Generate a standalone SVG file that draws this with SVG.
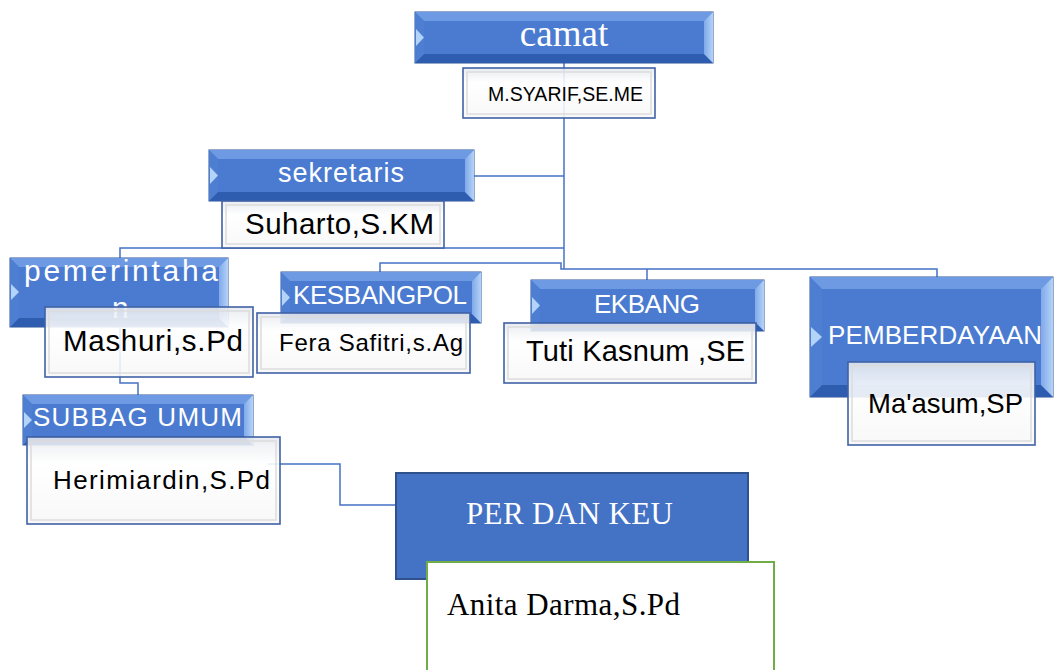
<svg xmlns="http://www.w3.org/2000/svg" width="1054" height="670" viewBox="0 0 1054 670">
<defs>
<linearGradient id="gBlue" x1="0" y1="0" x2="0" y2="1">
<stop offset="0" stop-color="#5a88d8"/>
<stop offset="1" stop-color="#3a6cc6"/>
</linearGradient>
<linearGradient id="gRight" x1="0" y1="0" x2="1" y2="0">
<stop offset="0" stop-color="#7fa9ea"/>
<stop offset="1" stop-color="#b5d3f7"/>
</linearGradient>
<linearGradient id="gWhite" x1="0" y1="0" x2="0" y2="1">
<stop offset="0" stop-color="#e6e9ef"/>
<stop offset="0.3" stop-color="#ffffff"/>
<stop offset="1" stop-color="#f7f7f7"/>
</linearGradient>
</defs>
<style>
.bx{fill:url(#gBlue);stroke:#2f5597;stroke-width:1}
.bt{fill:#6d9ae2}
.bb{fill:#2e5cae}
.bl{fill:#4d7ed2}
.br{fill:url(#gRight)}
.ba{fill:#b3d4f8}
.bi{fill:#4a7bd0}
.wb{fill:url(#gWhite);fill-opacity:0.88;stroke:#3f62a6;stroke-width:1.6}
.wi{fill:none;stroke:#dcdcdc;stroke-width:1.5}
.conn{fill:none;stroke:#4472c4;stroke-width:1.5}
.sw{font-family:"Liberation Sans",Arial,sans-serif;fill:#ffffff}
.sk{font-family:"Liberation Sans",Arial,sans-serif;fill:#000000}
.rw{font-family:"Liberation Serif","Times New Roman",serif;fill:#ffffff}
.rk{font-family:"Liberation Serif","Times New Roman",serif;fill:#000000}
</style>
<g id="connectors">
<path class="conn" d="M564 62 V269"/>
<path class="conn" d="M474 176 H564"/>
<path class="conn" d="M564 248 H120 V383 H138 V395"/>
<path class="conn" d="M380 273 V263 H561 V269 H937 V278"/>
<path class="conn" d="M647 269 V280"/>
<path class="conn" d="M268 464 H340 V505 H396"/>
</g>
<g id="camat">
<rect class="bx" x="415" y="12" width="298" height="51"/>
<polygon class="bt" points="415,12 713,12 704,21 424,21"/>
<polygon class="bb" points="415,63 713,63 704,54 424,54"/>
<polygon class="bl" points="415,12 424,21 424,54 415,63"/>
<polygon class="br" points="713,12 704,21 704,54 713,63"/>
<polygon class="ba" points="416,29 424,37.5 416,46"/>
<rect class="bi" x="424" y="21" width="280" height="33"/>
<text class="rw" x="564" y="46" font-size="37" text-anchor="middle">camat</text>
</g>
<g id="syarif">
<rect class="wb" x="463" y="68" width="192" height="50"/>
<rect class="wi" x="467" y="72" width="184" height="42"/>
<text class="sk" x="488" y="101" font-size="19.5" textLength="155" lengthAdjust="spacing">M.SYARIF,SE.ME</text>
</g>
<g id="sekretaris">
<rect class="bx" x="209" y="150" width="265" height="51"/>
<polygon class="bt" points="209,150 474,150 465,159 218,159"/>
<polygon class="bb" points="209,201 474,201 465,192 218,192"/>
<polygon class="bl" points="209,150 218,159 218,192 209,201"/>
<polygon class="br" points="474,150 465,159 465,192 474,201"/>
<polygon class="ba" points="210,167 218,175.5 210,184"/>
<rect class="bi" x="218" y="159" width="247" height="33"/>
<text class="sw" x="278" y="182" font-size="27" textLength="126" lengthAdjust="spacing">sekretaris</text>
</g>
<g id="suharto">
<rect class="wb" x="222" y="201" width="222" height="47"/>
<rect class="wi" x="226" y="205" width="214" height="39"/>
<text class="sk" x="245" y="234" font-size="29.5" textLength="189" lengthAdjust="spacing">Suharto,S.KM</text>
</g>
<g id="pemerintahan">
<rect class="bx" x="10" y="258" width="218" height="69"/>
<polygon class="bt" points="10,258 228,258 219,267 19,267"/>
<polygon class="bb" points="10,327 228,327 219,318 19,318"/>
<polygon class="bl" points="10,258 19,267 19,318 10,327"/>
<polygon class="br" points="228,258 219,267 219,318 228,327"/>
<polygon class="ba" points="11,284 19,292 11,300"/>
<rect class="bi" x="19" y="267" width="200" height="51"/>
<text class="sw" x="24" y="281" font-size="30" textLength="194" lengthAdjust="spacing">pemerintaha</text>
<text class="sw" x="112" y="318" font-size="30">n</text>
</g>
<g id="mashuri">
<rect class="wb" x="45" y="307" width="208" height="70"/>
<rect class="wi" x="49" y="311" width="200" height="62"/>
<text class="sk" x="63" y="351" font-size="29.5" textLength="180" lengthAdjust="spacing">Mashuri,s.Pd</text>
</g>
<g id="kesbangpol">
<rect class="bx" x="281" y="272" width="200" height="51"/>
<polygon class="bt" points="281,272 481,272 472,281 290,281"/>
<polygon class="bb" points="281,323 481,323 472,314 290,314"/>
<polygon class="bl" points="281,272 290,281 290,314 281,323"/>
<polygon class="br" points="481,272 472,281 472,314 481,323"/>
<polygon class="ba" points="282,289 290,297.5 282,306"/>
<rect class="bi" x="290" y="281" width="182" height="33"/>
<text class="sw" x="293" y="304" font-size="26" textLength="174" lengthAdjust="spacing">KESBANGPOL</text>
</g>
<g id="fera">
<rect class="wb" x="257" y="313" width="213" height="60"/>
<rect class="wi" x="261" y="317" width="205" height="52"/>
<text class="sk" x="279" y="351" font-size="24" textLength="184" lengthAdjust="spacing">Fera Safitri,s.Ag</text>
</g>
<g id="ekbang">
<rect class="bx" x="531" y="280" width="233" height="51"/>
<polygon class="bt" points="531,280 764,280 755,289 540,289"/>
<polygon class="bb" points="531,331 764,331 755,322 540,322"/>
<polygon class="bl" points="531,280 540,289 540,322 531,331"/>
<polygon class="br" points="764,280 755,289 755,322 764,331"/>
<polygon class="ba" points="532,297 540,305.5 532,314"/>
<rect class="bi" x="540" y="289" width="215" height="33"/>
<text class="sw" x="647" y="313" font-size="26" text-anchor="middle" textLength="106" lengthAdjust="spacing">EKBANG</text>
</g>
<g id="tuti">
<rect class="wb" x="504" y="323" width="252" height="60"/>
<rect class="wi" x="508" y="327" width="244" height="52"/>
<text class="sk" x="526" y="361" font-size="29" textLength="219" lengthAdjust="spacing">Tuti Kasnum ,SE</text>
</g>
<g id="pemberdayaan">
<rect class="bx" x="810" y="277" width="243" height="120"/>
<polygon class="bt" points="810,277 1053,277 1041,289 822,289"/>
<polygon class="bb" points="810,397 1053,397 1041,385 822,385"/>
<polygon class="bl" points="810,277 822,289 822,385 810,397"/>
<polygon class="br" points="1053,277 1041,289 1041,385 1053,397"/>
<polygon class="ba" points="811,327 822,337 811,347"/>
<rect class="bi" x="822" y="289" width="219" height="96"/>
<text class="sw" x="828" y="344" font-size="26" textLength="214" lengthAdjust="spacing">PEMBERDAYAAN</text>
</g>
<g id="maasum">
<rect class="wb" x="848" y="362" width="187" height="83"/>
<rect class="wi" x="852" y="366" width="179" height="75"/>
<text class="sk" x="868" y="413" font-size="27.5">Ma'asum,SP</text>
</g>
<g id="subbag">
<rect class="bx" x="23" y="395" width="230" height="50"/>
<polygon class="bt" points="23,395 253,395 244,404 32,404"/>
<polygon class="bb" points="23,445 253,445 244,436 32,436"/>
<polygon class="bl" points="23,395 32,404 32,436 23,445"/>
<polygon class="br" points="253,395 244,404 244,436 253,445"/>
<polygon class="ba" points="24,412 32,420 24,428"/>
<rect class="bi" x="32" y="404" width="212" height="32"/>
<text class="sw" x="33" y="426" font-size="26" textLength="209" lengthAdjust="spacing">SUBBAG UMUM</text>
</g>
<g id="herimiardin">
<rect class="wb" x="27" y="437" width="253" height="87"/>
<rect class="wi" x="31" y="441" width="245" height="79"/>
<text class="sk" x="53" y="489" font-size="26" textLength="217" lengthAdjust="spacing">Herimiardin,S.Pd</text>
</g>
<g id="perdankeu">
<rect x="396" y="473" width="352" height="106" fill="#4472c4" stroke="#2f528f" stroke-width="2"/>
<text class="rw" x="466" y="524" font-size="31" textLength="207" lengthAdjust="spacing">PER DAN KEU</text>
</g>
<g id="anita">
<rect x="427" y="562" width="347" height="120" fill="#ffffff" stroke="#70ad47" stroke-width="2"/>
<text class="rk" x="447" y="615" font-size="31" textLength="233" lengthAdjust="spacing">Anita Darma,S.Pd</text>
</g>
</svg>
